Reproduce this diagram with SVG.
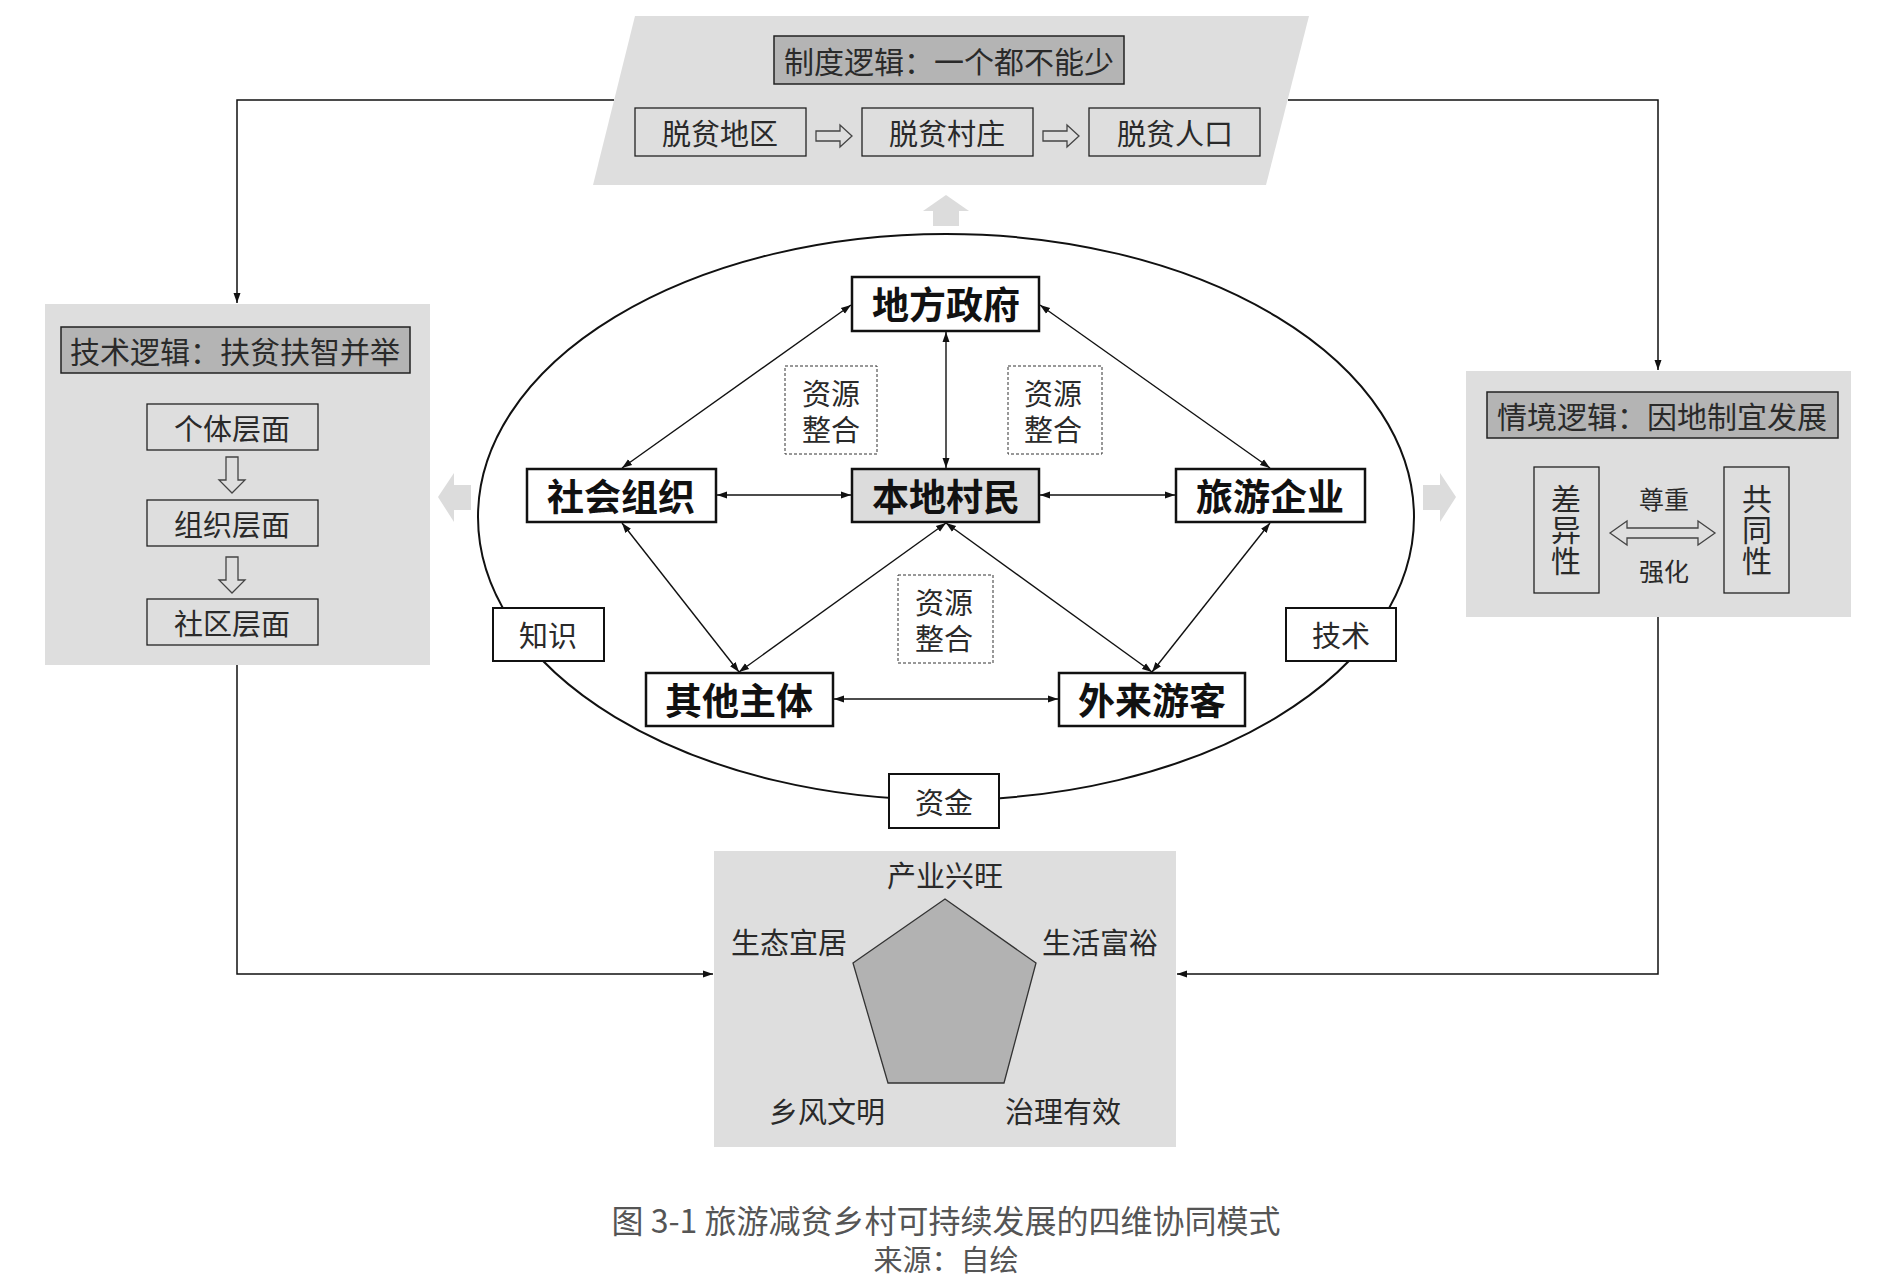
<svg xmlns="http://www.w3.org/2000/svg" width="1887" height="1281" viewBox="0 0 1887 1281">
<defs>
<style>
.t{font-family:"Noto Sans CJK SC","Noto Sans",sans-serif;fill:#2a2a2a;text-anchor:middle;dominant-baseline:central}
.s29{font-size:29px}
.s30{font-size:30px}
.s25{font-size:25px}
.v{writing-mode:vertical-rl;letter-spacing:1px}
.b{font-size:37px;font-weight:700;fill:#111}
.panel{fill:#dedede}
.title{fill:#b4b4b4;stroke:#222;stroke-width:1.5}
.box{fill:none;stroke:#222;stroke-width:1.3}
.node{fill:#fff;stroke:#111;stroke-width:2.5}
.dash{fill:#fff;stroke:#333;stroke-width:1;stroke-dasharray:3 2}
.lab{fill:#fff;stroke:#111;stroke-width:2}
.hol{fill:none;stroke:#444;stroke-width:1.3}
.blk{fill:#dcdcdc}
.ln{fill:none;stroke:#111;stroke-width:1.5}
.ln2{fill:none;stroke:#111;stroke-width:1.4}
</style>
<marker id="ah" viewBox="0 0 10 10" refX="10" refY="5" markerWidth="10" markerHeight="10" markerUnits="userSpaceOnUse" orient="auto-start-reverse">
<path d="M0,1.5 L10,5 L0,8.5 Z" fill="#111"/>
</marker>
</defs>
<rect width="1887" height="1281" fill="#fff"/>

<!-- block arrows -->
<g id="block-arrows">
<polygon class="blk" points="946,195 969,211 959,211 959,226 933,226 933,211 923,211"/>
<polygon class="blk" points="438,497 454,473 454,485 471,485 471,510 454,510 454,522"/>
<polygon class="blk" points="1456,497 1440,473 1440,485 1423,485 1423,510 1440,510 1440,522"/>
</g>

<!-- top panel -->
<g id="institution-logic">
<polygon class="panel" points="635,16 1309,16 1266,185 593,185"/>
<rect class="title" x="774" y="36" width="350" height="48"/>
<text class="t s30" x="949" y="60">制度逻辑：一个都不能少</text>
<rect class="box" x="635" y="108" width="171" height="48"/>
<text class="t s29" x="720" y="132">脱贫地区</text>
<rect class="box" x="862" y="108" width="171" height="48"/>
<text class="t s29" x="947" y="132">脱贫村庄</text>
<rect class="box" x="1089" y="108" width="171" height="48"/>
<text class="t s29" x="1175" y="132">脱贫人口</text>
<path class="hol" d="M816,131 H840 V125 L852,136 L840,147 V141 H816 Z"/>
<path class="hol" d="M1043,131 H1067 V125 L1079,136 L1067,147 V141 H1043 Z"/>
</g>

<!-- left panel -->
<g id="technical-logic">
<rect class="panel" x="45" y="304" width="385" height="361"/>
<rect class="title" x="61" y="327" width="349" height="46"/>
<text class="t s30" x="235" y="350">技术逻辑：扶贫扶智并举</text>
<rect class="box" x="147" y="404" width="171" height="46"/>
<text class="t s29" x="232" y="427">个体层面</text>
<rect class="box" x="147" y="500" width="171" height="46"/>
<text class="t s29" x="232" y="523">组织层面</text>
<rect class="box" x="147" y="599" width="171" height="46"/>
<text class="t s29" x="232" y="622">社区层面</text>
<path class="hol" d="M226,457 H238 V480 H245 L232,493 L219,480 H226 Z"/>
<path class="hol" d="M226,557 H238 V580 H245 L232,593 L219,580 H226 Z"/>
</g>

<!-- right panel -->
<g id="context-logic">
<rect class="panel" x="1466" y="371" width="385" height="246"/>
<rect class="title" x="1487" y="392" width="351" height="46"/>
<text class="t s30" x="1662" y="415">情境逻辑：因地制宜发展</text>
<rect class="box" x="1534" y="467" width="65" height="126"/>
<text class="t s30 v" x="1566" y="530">差异性</text>
<rect class="box" x="1724" y="467" width="65" height="126"/>
<text class="t s30 v" x="1757" y="530">共同性</text>
<text class="t s25" x="1664" y="498">尊重</text>
<text class="t s25" x="1664" y="570">强化</text>
<path class="hol" d="M1610,533 L1627,521 V528 H1698 V521 L1715,533 L1698,545 V538 H1627 V545 Z"/>
</g>

<!-- bottom panel -->
<g id="rural-revitalization">
<rect class="panel" x="714" y="851" width="462" height="296"/>
<polygon points="945,899 1036,963 1004,1083 888,1083 853,963" fill="#b2b2b2" stroke="#333" stroke-width="1.3"/>
<text class="t s29" x="945" y="874">产业兴旺</text>
<text class="t s29" x="789" y="941">生态宜居</text>
<text class="t s29" x="1100" y="941">生活富裕</text>
<text class="t s29" x="827" y="1110">乡风文明</text>
<text class="t s29" x="1063" y="1110">治理有效</text>
</g>

<!-- ellipse -->
<ellipse id="ellipse" cx="946" cy="517" rx="468" ry="283" fill="none" stroke="#111" stroke-width="2"/>

<!-- connectors -->
<g id="connectors">
<polyline class="ln" points="614,100 237,100 237,303" marker-end="url(#ah)"/>
<polyline class="ln" points="1288,100 1658,100 1658,370" marker-end="url(#ah)"/>
<polyline class="ln" points="237,665 237,974 713,974" marker-end="url(#ah)"/>
<polyline class="ln" points="1658,617 1658,974 1177,974" marker-end="url(#ah)"/>
<line class="ln2" x1="946" y1="332" x2="946" y2="468" marker-start="url(#ah)" marker-end="url(#ah)"/>
<line class="ln2" x1="851" y1="305" x2="622" y2="468" marker-start="url(#ah)" marker-end="url(#ah)"/>
<line class="ln2" x1="1040" y1="305" x2="1270" y2="468" marker-start="url(#ah)" marker-end="url(#ah)"/>
<line class="ln2" x1="717" y1="495" x2="851" y2="495" marker-start="url(#ah)" marker-end="url(#ah)"/>
<line class="ln2" x1="1040" y1="495" x2="1175" y2="495" marker-start="url(#ah)" marker-end="url(#ah)"/>
<line class="ln2" x1="622" y1="523" x2="739" y2="672" marker-start="url(#ah)" marker-end="url(#ah)"/>
<line class="ln2" x1="946" y1="523" x2="739" y2="672" marker-start="url(#ah)" marker-end="url(#ah)"/>
<line class="ln2" x1="946" y1="523" x2="1152" y2="672" marker-start="url(#ah)" marker-end="url(#ah)"/>
<line class="ln2" x1="1270" y1="523" x2="1152" y2="672" marker-start="url(#ah)" marker-end="url(#ah)"/>
<line class="ln2" x1="834" y1="699" x2="1058" y2="699" marker-start="url(#ah)" marker-end="url(#ah)"/>
</g>

<!-- resource boxes -->
<g id="resource-1">
<rect class="dash" x="785" y="366" width="92" height="88"/>
<text class="t s29" x="831" y="392">资源<tspan x="831" dy="36">整合</tspan></text>
</g>
<g id="resource-2">
<rect class="dash" x="1008" y="366" width="94" height="88"/>
<text class="t s29" x="1053" y="392">资源<tspan x="1053" dy="36">整合</tspan></text>
</g>
<g id="resource-3">
<rect class="dash" x="898" y="575" width="95" height="88"/>
<text class="t s29" x="944" y="601">资源<tspan x="944" dy="36">整合</tspan></text>
</g>

<!-- actor nodes -->
<g id="local-government">
<rect class="node" x="852" y="277" width="187" height="54"/>
<text class="t b" x="946" y="303">地方政府</text>
</g>
<g id="social-organization">
<rect class="node" x="527" y="469" width="189" height="53"/>
<text class="t b" x="621" y="495">社会组织</text>
</g>
<g id="local-villagers">
<rect class="node" x="852" y="469" width="187" height="53" style="fill:#dcdcdc"/>
<text class="t b" x="946" y="495">本地村民</text>
</g>
<g id="tourism-enterprise">
<rect class="node" x="1176" y="469" width="189" height="53"/>
<text class="t b" x="1270" y="495">旅游企业</text>
</g>
<g id="other-subjects">
<rect class="node" x="646" y="673" width="187" height="53"/>
<text class="t b" x="739" y="699">其他主体</text>
</g>
<g id="tourists">
<rect class="node" x="1059" y="673" width="186" height="53"/>
<text class="t b" x="1152" y="699">外来游客</text>
</g>

<!-- ellipse labels -->
<g id="knowledge">
<rect class="lab" x="493" y="608" width="111" height="53"/>
<text class="t s29" x="548" y="634">知识</text>
</g>
<g id="technology">
<rect class="lab" x="1286" y="608" width="110" height="53"/>
<text class="t s29" x="1341" y="634">技术</text>
</g>
<g id="capital">
<rect class="lab" x="889" y="774" width="110" height="54"/>
<text class="t s29" x="944" y="801">资金</text>
</g>

<!-- caption -->
<g id="caption">
<text class="t" x="946" y="1219" style="font-size:32px;fill:#555">图 3-1 旅游减贫乡村可持续发展的四维协同模式</text>
<text class="t" x="946" y="1258" style="font-size:29px;fill:#555">来源：自绘</text>
</g>
</svg>
